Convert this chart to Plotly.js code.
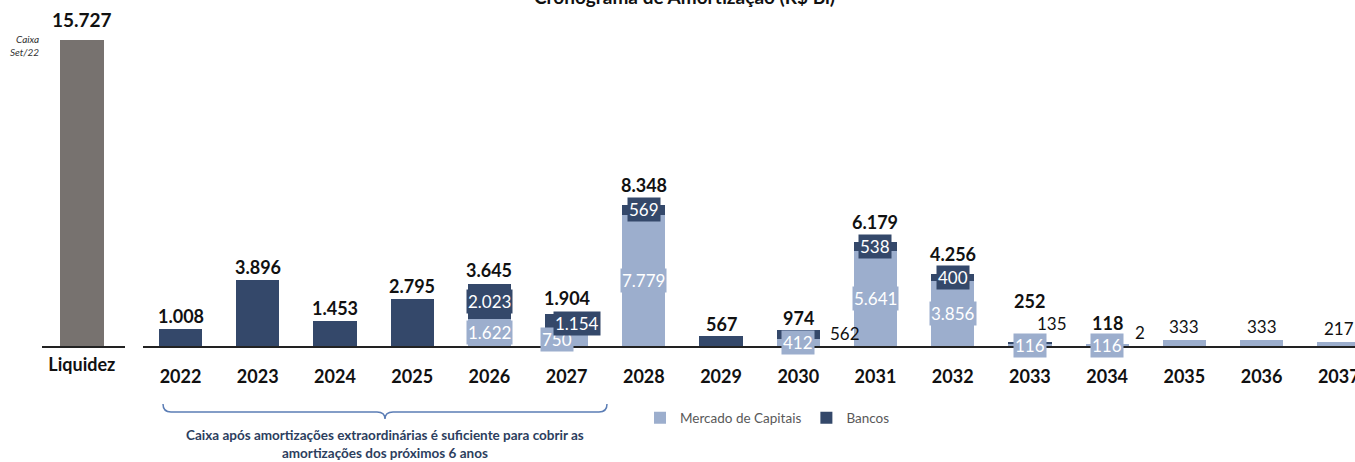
<!DOCTYPE html>
<html>
<head>
<meta charset="utf-8">
<script src="https://cdn.plot.ly/plotly-3.0.1.min.js"></script>
<style>html,body{margin:0;padding:0;background:#fff;}#chart{width:1355px;height:462px;}</style>
</head>
<body>
<div id="chart"></div>
<script>
// ---- data ----
const years = ['2022','2023','2024','2025','2026','2027','2028','2029','2030','2031','2032','2033','2034','2035','2036','2037'];
const mercado = [0,0,0,0,1622,750,7779,0,412,5641,3856,116,116,333,333,217];
const bancos  = [1008,3896,1453,2795,2023,1154,569,567,562,538,400,135,2,0,0,0];
const totalLabels = [1008,3896,1453,2795,3645,1904,8348,567,974,6179,4256,252,118,null,null,null];
const liquidezCat = ['Liquidez'];
const liquidezVal = [15727];
const seriesNames = ['Mercado de Capitais','Bancos'];

// ---- label styling (positions of labels only) ----
const mercadoMode = ['','','','','box','box','box','','box','box','box','box','box','out','out','out'];
const bancosMode  = ['','','','','box','box','box','','out','box','box','out','out','','',''];
const mercadoDx   = [0,0,0,0,0,-10,0,0,0,0,0,0,0,0,0,0];
const bancosDx    = [0,0,0,0,0,10,0,0,47,0,0,22,33,0,0,0];
const bancosOutDy = [0,0,0,0,0,0,0,0,-4,0,0,18,12,0,0,0];
const totalDy     = [13,13,13,13,14,16,20,12,12,20,20,41,21,0,0,0];

const C_LIGHT = '#9caecd', C_DARK = '#34486a', C_GRAY = '#77726f';
const FONT = 'Lato, "Open Sans", sans-serif';
const W = 1355, AXY = 346, PH = 326;
function fmt(v){ return String(v).replace(/\B(?=(\d{3})+(?!\d))/g,'.'); }
function px(x){ return x / W; }
function py(y){ return (AXY - y) / PH; }

const traces = [
  {type:'bar', x:liquidezCat, y:liquidezVal, xaxis:'x', yaxis:'y', marker:{color:C_GRAY}, width:0.53, showlegend:false, hoverinfo:'skip'},
  {type:'bar', name:seriesNames[0], x:years, y:mercado, xaxis:'x2', yaxis:'y2', marker:{color:C_LIGHT}, width:0.56, hoverinfo:'skip'},
  {type:'bar', name:seriesNames[1], x:years, y:bancos, xaxis:'x2', yaxis:'y2', marker:{color:C_DARK}, width:0.56, hoverinfo:'skip'}
];

const ann = [];
// Liquidez value label
ann.push({xref:'x', yref:'y', x:0, y:liquidezVal[0], text:fmt(liquidezVal[0]), showarrow:false, yanchor:'middle', yshift:20, font:{family:FONT, size:19, color:'#111', weight:'bold'}});
ann.push({xref:'paper', yref:'paper', x:px(41), y:py(46), xanchor:'right', yanchor:'middle', align:'right', text:'<i>Caixa<br>Set/22</i>', showarrow:false, font:{family:FONT, size:10, color:'#333'}});

// annotations on a category axis use the category index
years.forEach((yr,i)=>{
  const m = mercado[i], b = bancos[i];
  if (mercadoMode[i]==='box') {
    ann.push({xref:'x2', yref:'y2', x:i, y:m/2, text:fmt(m), showarrow:false, xshift:mercadoDx[i], bgcolor:C_LIGHT, borderpad:1, font:{family:FONT, size:17, color:'#fff'}});
  } else if (mercadoMode[i]==='out') {
    ann.push({xref:'x2', yref:'y2', x:i, y:m, text:fmt(m), showarrow:false, yanchor:'middle', yshift:14, font:{family:FONT, size:17, color:'#111'}});
  }
  if (bancosMode[i]==='box') {
    ann.push({xref:'x2', yref:'y2', x:i, y:m + b/2, text:fmt(b), showarrow:false, xshift:bancosDx[i], bgcolor:C_DARK, borderpad:1, font:{family:FONT, size:17, color:'#fff'}});
  } else if (bancosMode[i]==='out') {
    ann.push({xref:'x2', yref:'y2', x:i, y:m + b, text:fmt(b), showarrow:false, xshift:bancosDx[i], yanchor:'middle', yshift:bancosOutDy[i], font:{family:FONT, size:17, color:'#111'}});
  }
  if (totalLabels[i] !== null) {
    ann.push({xref:'x2', yref:'y2', x:i, y:m + b, text:fmt(totalLabels[i]), showarrow:false, yanchor:'middle', yshift:totalDy[i], font:{family:FONT, size:18, color:'#111', weight:'bold'}});
  }
});

// title (cut at the top like the reference)
ann.push({xref:'paper', yref:'paper', x:px(684), y:py(-3), xanchor:'center', text:'Cronograma de Amortização (R$ Bi)', showarrow:false, yanchor:'middle', font:{family:FONT, size:19, color:'#111', weight:'bold'}});
// brace note
ann.push({xref:'paper', yref:'paper', x:px(385), y:py(444), xanchor:'center', text:'Caixa após amortizações extraordinárias é suficiente para cobrir as<br>amortizações dos próximos 6 anos', showarrow:false, yanchor:'middle', align:'center', font:{family:FONT, size:13.5, color:'#2c3e5e', weight:'bold'}});

function P(x,y){ return px(x).toFixed(5)+','+py(y).toFixed(5); }
const bracePath = 'M'+P(163,404)+' Q'+P(163,412)+' '+P(171,412)+' L'+P(377,412)+' Q'+P(385,412)+' '+P(385,419)+' Q'+P(385,412)+' '+P(393,412)+' L'+P(599,412)+' Q'+P(607,412)+' '+P(607,404);

const layout = {
  width:W, height:462,
  margin:{l:0, r:0, t:20, b:116, pad:0},
  paper_bgcolor:'#fff', plot_bgcolor:'rgba(0,0,0,0)',
  barmode:'stack',
  separators:',.',
  font:{family:FONT},
  showlegend:true,
  legend:{orientation:'h', x:px(640), xanchor:'left', y:py(418), yanchor:'middle', font:{family:FONT, size:13.5, color:'#595959'}, traceorder:'normal', itemwidth:30, bgcolor:'rgba(0,0,0,0)'},
  xaxis:{domain:[px(42), px(125)], range:[-0.48, 0.52], type:'category', anchor:'y', showline:true, linecolor:'#222', linewidth:1.5, showgrid:false, zeroline:false, ticks:'', ticklabelstandoff:2, tickfont:{family:FONT, size:18, color:'#111', weight:'bold'}, fixedrange:true},
  yaxis:{domain:[0,1], range:[0, PH/0.01946], visible:false, fixedrange:true},
  xaxis2:{domain:[px(143), 1], range:[-0.486, 15.21], type:'category', anchor:'y2', showline:true, linecolor:'#222', linewidth:1.5, showgrid:false, zeroline:false, ticks:'', ticklabelstandoff:14, tickfont:{family:FONT, size:18, color:'#111', weight:'bold'}, fixedrange:true},
  yaxis2:{domain:[0,1], range:[0, PH/0.0169], anchor:'x2', visible:false, fixedrange:true},
  annotations:ann,
  shapes:[{type:'path', xref:'paper', yref:'paper', path:bracePath, line:{color:'#5b7db5', width:1.5}}]
};

Plotly.newPlot('chart', traces, layout, {displayModeBar:false, staticPlot:true});
</script>
</body>
</html>
